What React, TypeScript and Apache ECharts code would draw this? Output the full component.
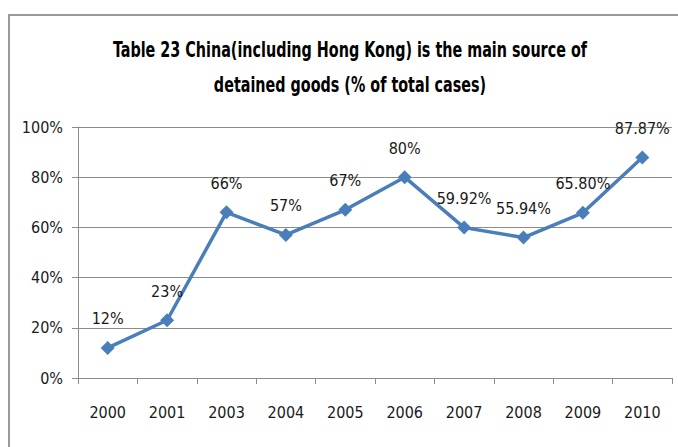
import React, { useEffect, useRef } from "react";
import * as echarts from "echarts";

const categories = ["2000", "2001", "2003", "2004", "2005", "2006", "2007", "2008", "2009", "2010"];
const values = [12, 23, 66, 57, 67, 80, 59.92, 55.94, 65.8, 87.87];
const valueLabels = ["12%", "23%", "66%", "57%", "67%", "80%", "59.92%", "55.94%", "65.80%", "87.87%"];
const titleLines = [
  "Table 23 China(including Hong Kong) is the main source of",
  "detained goods (% of total cases)",
];

const FONT = "'Liberation Sans Narrow', 'DejaVu Sans Condensed', 'Open Sans', sans-serif";

export default function App() {
  const ref = useRef<HTMLDivElement>(null);
  useEffect(() => {
    if (!ref.current) return;
    const chart = echarts.init(ref.current, null, { renderer: "svg" });
    chart.setOption({
      animation: false,
      backgroundColor: "#ffffff",
      graphic: [
        {
          type: "polyline",
          shape: { points: [[9, 460], [9, 15], [690, 15]] },
          style: { stroke: "#9a9a9a", lineWidth: 2, fill: "none" },
          silent: true,
        },
        ...titleLines.map((t, i) => ({
          type: "text",
          x: 350,
          y: 50 + i * 35,
          scaleX: 0.76,
          silent: true,
          style: {
            text: t,
            fontFamily: FONT,
            fontSize: 21,
            fontWeight: "bold",
            fill: "#000000",
            align: "center",
            verticalAlign: "middle",
          },
        })),
      ],
      grid: { left: 78, right: 6, top: 127, bottom: 69 },
      xAxis: {
        type: "category",
        data: categories,
        boundaryGap: true,
        axisLine: { show: true, lineStyle: { color: "#8c8c8c", width: 1 } },
        axisTick: { show: true, length: 6, lineStyle: { color: "#8c8c8c" } },
        axisLabel: { margin: 26, fontFamily: FONT, fontSize: 16, color: "#1a1a1a" },
      },
      yAxis: {
        type: "value",
        min: 0,
        max: 100,
        interval: 20,
        axisLine: { show: true, lineStyle: { color: "#8c8c8c", width: 1 } },
        axisTick: { show: true, length: 6, lineStyle: { color: "#8c8c8c" } },
        axisLabel: { margin: 15, fontFamily: FONT, fontSize: 16, color: "#1a1a1a", formatter: "{value}%" },
        splitLine: { show: true, lineStyle: { color: "#8c8c8c", width: 1 } },
      },
      series: [
        {
          type: "line",
          data: values,
          symbol: "diamond",
          symbolSize: 14,
          lineStyle: { color: "#4a7ebb", width: 3.5 },
          itemStyle: { color: "#4a7ebb" },
          label: {
            show: true,
            position: "top",
            distance: 14,
            fontFamily: FONT,
            fontSize: 16,
            color: "#1a1a1a",
            formatter: (p: any) => valueLabels[p.dataIndex],
          },
        },
      ],
    });
    return () => chart.dispose();
  }, []);
  return <div ref={ref} style={{ position: "fixed", left: 0, top: 0, width: 678, height: 447 }} />;
}
